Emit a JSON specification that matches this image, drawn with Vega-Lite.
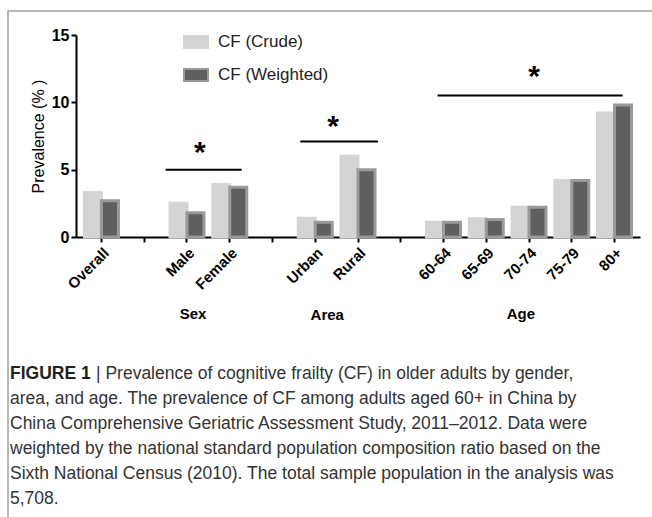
{
  "$schema": "https://vega.github.io/schema/vega-lite/v6.json",
  "background": "white",
  "autosize": {"type": "none"},
  "width": 646,
  "height": 508,
  "padding": {"left": 8, "top": 11, "right": -2, "bottom": -2},
  "config": {"view": {"stroke": "#a0a0a0", "strokeWidth": 1.5}, "font": "Liberation Sans"},
  "resolve": {"scale": {"x": "independent", "y": "independent"}},
  "layer": [
    {
      "data": {"values": [
        {"slot": "Overall", "type": "CF (Crude)", "value": 3.3},
        {"slot": "Male", "type": "CF (Crude)", "value": 2.5},
        {"slot": "Female", "type": "CF (Crude)", "value": 3.9},
        {"slot": "Urban", "type": "CF (Crude)", "value": 1.4},
        {"slot": "Rural", "type": "CF (Crude)", "value": 6.0},
        {"slot": "60-64", "type": "CF (Crude)", "value": 1.1},
        {"slot": "65-69", "type": "CF (Crude)", "value": 1.35},
        {"slot": "70-74", "type": "CF (Crude)", "value": 2.2},
        {"slot": "75-79", "type": "CF (Crude)", "value": 4.2},
        {"slot": "80+", "type": "CF (Crude)", "value": 9.2},
        {"slot": "Overall", "type": "CF (Weighted)", "value": 2.7},
        {"slot": "Male", "type": "CF (Weighted)", "value": 1.8},
        {"slot": "Female", "type": "CF (Weighted)", "value": 3.7},
        {"slot": "Urban", "type": "CF (Weighted)", "value": 1.1},
        {"slot": "Rural", "type": "CF (Weighted)", "value": 5.0},
        {"slot": "60-64", "type": "CF (Weighted)", "value": 1.1},
        {"slot": "65-69", "type": "CF (Weighted)", "value": 1.3},
        {"slot": "70-74", "type": "CF (Weighted)", "value": 2.2},
        {"slot": "75-79", "type": "CF (Weighted)", "value": 4.2},
        {"slot": "80+", "type": "CF (Weighted)", "value": 9.8}
      ]},
      "layer": [
        {
          "mark": {"type": "bar", "strokeWidth": 3},
          "encoding": {
            "x": {
              "field": "slot", "type": "nominal", "sort": null,
              "scale": {"domain": ["Overall", "gap1", "Male", "Female", "gap2", "Urban", "Rural", "gap3", "60-64", "65-69", "70-74", "75-79", "80+"], "range": [68, 632], "paddingInner": 0, "paddingOuter": 0.096},
              "axis": {
                "title": null, "offset": -282, "labelAngle": -45, "labelFont": "Liberation Sans", "labelFontWeight": "bold", "labelFontSize": 15, "labelColor": "#000", "labelPadding": 3,
                "domainColor": "#000", "domainWidth": 2, "tickColor": "#000", "tickWidth": 2, "tickSize": 5,
                "labelExpr": "indexof(datum.label, 'gap') == 0 ? '' : datum.label"
              }
            },
            "xOffset": {"field": "type", "type": "nominal", "scale": {"paddingInner": 0, "paddingOuter": 0.257}},
            "y": {
              "field": "value", "type": "quantitative",
              "scale": {"domain": [0, 15], "nice": false, "range": [226, 24]},
              "axis": {
                "offset": -68, "values": [0, 5, 10, 15], "grid": false, "domainColor": "#000", "domainWidth": 2, "tickColor": "#000", "tickWidth": 2, "tickSize": 5,
                "labelFont": "Liberation Sans", "labelFontWeight": "bold", "labelFontSize": 16, "labelColor": "#000", "labelPadding": 2,
                "title": "Prevalence (% )", "titleFont": "Liberation Sans", "titleFontSize": 16, "titleFontWeight": "normal", "titleColor": "#000", "titlePadding": 5
              }
            },
            "fill": {
              "field": "type", "type": "nominal",
              "scale": {"domain": ["CF (Crude)", "CF (Weighted)"], "range": ["#d4d4d4", "#5f5f5f"]},
              "legend": {"orient": "none", "legendX": 175, "legendY": 18, "title": null, "symbolType": "M-1,-0.5H1V0.5H-1Z", "symbolSize": 576, "symbolStrokeWidth": 2, "labelFont": "Liberation Sans", "labelFontSize": 17, "labelColor": "#222", "labelOffset": 9, "rowPadding": 10, "padding": 0}
            },
            "stroke": {
              "field": "type", "type": "nominal",
              "scale": {"domain": ["CF (Crude)", "CF (Weighted)"], "range": ["#d4d4d4", "#9a9a9a"]},
              "legend": {"orient": "none", "legendX": 175, "legendY": 18, "title": null, "symbolType": "M-1,-0.5H1V0.5H-1Z", "symbolSize": 576, "symbolStrokeWidth": 2, "labelFont": "Liberation Sans", "labelFontSize": 17, "labelColor": "#222", "labelOffset": 9, "rowPadding": 10, "padding": 0}
            }
          }
        },
        {
          "data": {"values": [{"start": "Male", "end": "Female", "level": 5.0}]},
          "mark": {"type": "rule", "strokeWidth": 2, "color": "#000"},
          "encoding": {
            "x": {"field": "start", "type": "nominal", "bandPosition": 0},
            "x2": {"field": "end", "bandPosition": 0.78},
            "y": {"field": "level", "type": "quantitative"}
          }
        },
        {
          "data": {"values": [{"start": "Urban", "end": "Rural", "level": 7.1}]},
          "mark": {"type": "rule", "strokeWidth": 2, "color": "#000"},
          "encoding": {
            "x": {"field": "start", "type": "nominal", "bandPosition": 0.15},
            "x2": {"field": "end", "bandPosition": 0.97},
            "y": {"field": "level", "type": "quantitative"}
          }
        },
        {
          "data": {"values": [{"start": "60-64", "end": "80+", "level": 10.5}]},
          "mark": {"type": "rule", "strokeWidth": 2, "color": "#000"},
          "encoding": {
            "x": {"field": "start", "type": "nominal", "bandPosition": 0.36},
            "x2": {"field": "end", "bandPosition": 0.69},
            "y": {"field": "level", "type": "quantitative"}
          }
        },
        {
          "data": {"values": [{"anchor": "Male", "level": 5.0, "sig": "*"}]},
          "mark": {"type": "text", "font": "Liberation Sans", "fontWeight": "bold", "fontSize": 30, "baseline": "alphabetic", "dy": -8, "color": "#000"},
          "encoding": {
            "x": {"field": "anchor", "type": "nominal", "bandPosition": 0.8},
            "y": {"field": "level", "type": "quantitative"},
            "text": {"field": "sig"}
          }
        },
        {
          "data": {"values": [{"anchor": "Urban", "level": 7.1, "sig": "*"}]},
          "mark": {"type": "text", "font": "Liberation Sans", "fontWeight": "bold", "fontSize": 30, "baseline": "alphabetic", "dy": -5, "color": "#000"},
          "encoding": {
            "x": {"field": "anchor", "type": "nominal", "bandPosition": 0.92},
            "y": {"field": "level", "type": "quantitative"},
            "text": {"field": "sig"}
          }
        },
        {
          "data": {"values": [{"anchor": "70-74", "level": 10.5, "sig": "*"}]},
          "mark": {"type": "text", "font": "Liberation Sans", "fontWeight": "bold", "fontSize": 30, "baseline": "alphabetic", "dy": -10, "color": "#000"},
          "encoding": {
            "x": {"field": "anchor", "type": "nominal", "bandPosition": 0.62},
            "y": {"field": "level", "type": "quantitative"},
            "text": {"field": "sig"}
          }
        },
        {
          "data": {"values": [{"anchor": "Male", "group": "Sex"}]},
          "mark": {"type": "text", "font": "Liberation Sans", "fontWeight": "bold", "fontSize": 15, "baseline": "middle", "dy": 77, "color": "#000"},
          "encoding": {
            "x": {"field": "anchor", "type": "nominal", "bandPosition": 0.64},
            "y": {"datum": 0, "type": "quantitative"},
            "text": {"field": "group"}
          }
        },
        {
          "data": {"values": [{"anchor": "Urban", "group": "Area"}]},
          "mark": {"type": "text", "font": "Liberation Sans", "fontWeight": "bold", "fontSize": 15, "baseline": "middle", "dy": 78, "color": "#000"},
          "encoding": {
            "x": {"field": "anchor", "type": "nominal", "bandPosition": 0.78},
            "y": {"datum": 0, "type": "quantitative"},
            "text": {"field": "group"}
          }
        },
        {
          "data": {"values": [{"anchor": "70-74", "group": "Age"}]},
          "mark": {"type": "text", "font": "Liberation Sans", "fontWeight": "bold", "fontSize": 15, "baseline": "middle", "dy": 77, "color": "#000"},
          "encoding": {
            "x": {"field": "anchor", "type": "nominal", "bandPosition": 0.31},
            "y": {"datum": 0, "type": "quantitative"},
            "text": {"field": "group"}
          }
        }
      ]
    },
    {
      "data": {"values": [
        {"line": 1, "part": "head", "text": "FIGURE 1"},
        {"line": 1, "part": "rest", "text": "| Prevalence of cognitive frailty (CF) in older adults by gender,"},
        {"line": 2, "part": "body", "text": "area, and age. The prevalence of CF among adults aged 60+ in China by"},
        {"line": 3, "part": "body", "text": "China Comprehensive Geriatric Assessment Study, 2011–2012. Data were"},
        {"line": 4, "part": "body", "text": "weighted by the national standard population composition ratio based on the"},
        {"line": 5, "part": "body", "text": "Sixth National Census (2010). The total sample population in the analysis was"},
        {"line": 6, "part": "body", "text": "5,708."}
      ]},
      "encoding": {
        "x": {"datum": 0, "type": "quantitative", "scale": {"domain": [0, 1], "range": [2, 640]}, "axis": null},
        "y": {"field": "line", "type": "ordinal", "scale": {"type": "point", "range": [363, 488], "padding": 0}, "axis": null},
        "text": {"field": "text"}
      },
      "layer": [
        {
          "transform": [{"filter": "datum.part == 'head'"}],
          "mark": {"type": "text", "align": "left", "baseline": "middle", "font": "Liberation Sans", "fontWeight": "bold", "fontSize": 17.5, "color": "#231f20"}
        },
        {
          "transform": [{"filter": "datum.part == 'rest'"}],
          "mark": {"type": "text", "align": "left", "baseline": "middle", "dx": 86, "font": "Liberation Sans", "fontSize": 17.5, "color": "#333"}
        },
        {
          "transform": [{"filter": "datum.part == 'body'"}],
          "mark": {"type": "text", "align": "left", "baseline": "middle", "font": "Liberation Sans", "fontSize": 17.5, "color": "#333"}
        }
      ]
    }
  ]
}
